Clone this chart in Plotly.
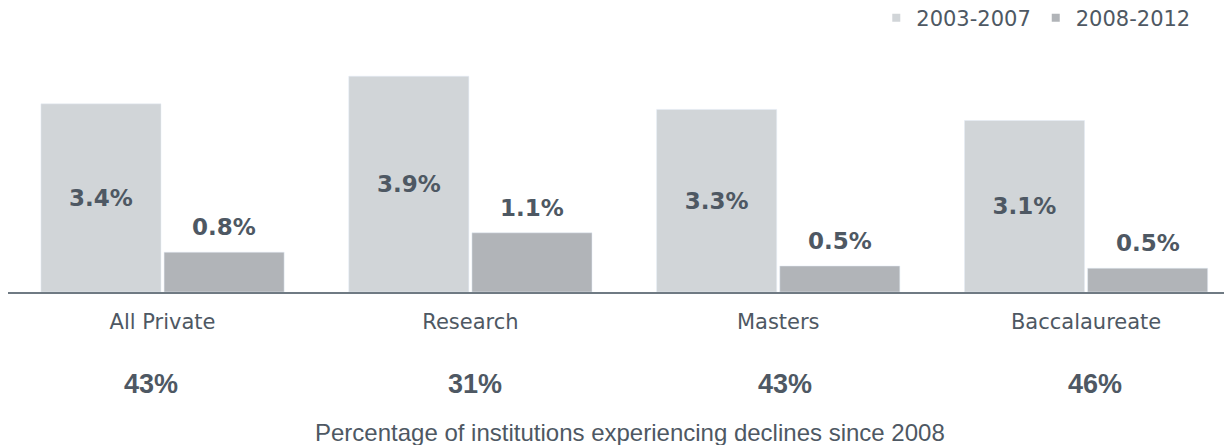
import plotly.graph_objects as go

categories = ["All Private", "Research", "Masters", "Baccalaureate"]
series_names = ["2003-2007", "2008-2012"]
values_2003_2007 = [3.4, 3.9, 3.3, 3.1]
values_2008_2012 = [0.72, 1.07, 0.47, 0.43]
labels_2003_2007 = ["3.4%", "3.9%", "3.3%", "3.1%"]
labels_2008_2012 = ["0.8%", "1.1%", "0.5%", "0.5%"]
decline_share = ["43%", "31%", "43%", "46%"]
bottom_title = "Percentage of institutions experiencing declines since 2008"

LIGHT = "#d1d5d8"
DARK = "#b1b4b8"
TEXT = "#4e5863"
AXIS = "#6f7a83"

xpos = list(range(len(categories)))

fig = go.Figure()
fig.add_trace(go.Bar(
    x=xpos, y=values_2003_2007, name=series_names[0], marker_color=LIGHT,
    text=labels_2003_2007, textposition="inside", insidetextanchor="middle",
    textfont=dict(family="DejaVu Sans", size=23, color=TEXT, weight="bold"),
    showlegend=False, hoverinfo="skip",
))
fig.add_trace(go.Bar(
    x=xpos, y=values_2008_2012, name=series_names[1], marker_color=DARK,
    showlegend=False, hoverinfo="skip",
))
# legend entries with small square markers
for nm, col in zip(series_names, [LIGHT, DARK]):
    fig.add_trace(go.Scatter(
        x=[None], y=[None], mode="markers", name=nm,
        marker=dict(symbol="square", size=8, color=col),
    ))

annotations = []
for i, (v, t) in enumerate(zip(values_2008_2012, labels_2008_2012)):
    annotations.append(dict(
        x=i + 0.2, y=v, xref="x", yref="y", text=t, showarrow=False,
        yanchor="bottom", yshift=10,
        font=dict(family="DejaVu Sans", size=23, color=TEXT, weight="bold"),
    ))
shifts = [-12, 5, 7, 9]
for i, t in enumerate(decline_share):
    annotations.append(dict(
        x=i, y=-0.369, xref="x", yref="paper", text=t, showarrow=False,
        yanchor="middle", xshift=shifts[i],
        font=dict(family="Liberation Sans", size=27, color=TEXT, weight="bold"),
    ))
annotations.append(dict(
    x=0.5, y=-0.566, xref="paper", yref="paper", text=bottom_title,
    showarrow=False, yanchor="middle", xshift=10,
    font=dict(family="Liberation Sans", size=24, color=TEXT),
))

# the page body adds an 8px offset, so the figure is sized to fit the window
fig.update_layout(
    width=1224, height=437,
    margin=dict(l=0, r=0, t=35, b=153, autoexpand=False),
    plot_bgcolor="white", paper_bgcolor="white",
    barmode="group", bargap=0.2, bargroupgap=0.025,
    annotations=annotations,
    legend=dict(
        orientation="h", x=0.97, xanchor="right", y=1.10, yanchor="middle",
        font=dict(family="DejaVu Sans", size=21, color=TEXT),
        itemwidth=30, tracegroupgap=0,
    ),
    xaxis=dict(
        range=[-0.502, 3.474], tickvals=xpos, ticktext=categories,
        showline=True, linecolor=AXIS, linewidth=2, showgrid=False,
        zeroline=False, ticks="", automargin=False,
        tickfont=dict(family="DejaVu Sans", size=21, color=TEXT),
        ticklabelstandoff=10,
    ),
    yaxis=dict(range=[0, 4.5], visible=False, showgrid=False, zeroline=False,
               automargin=False),
)

fig.write_html("out.html")
